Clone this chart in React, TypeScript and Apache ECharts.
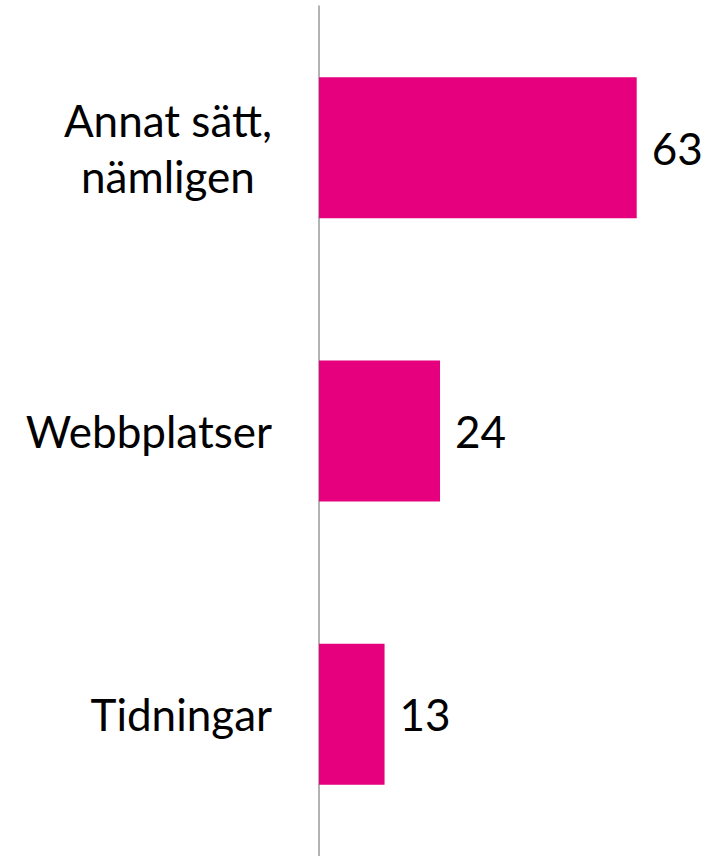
import React, { useEffect, useRef } from "react";
import * as echarts from "echarts";

const categories = ["Annat sätt,\nnämligen", "Webbplatser", "Tidningar"];
const values = [63, 24, 13];

const FONT = "Lato";
const FS = 44;

export default function App() {
  const ref = useRef<HTMLDivElement>(null);
  useEffect(() => {
    const chart = echarts.init(ref.current!, null, { renderer: "svg" });
    chart.setOption({
      animation: false,
      backgroundColor: "#ffffff",
      grid: { left: 319, top: 6, width: 353, height: 852 },
      xAxis: {
        type: "value",
        min: 0,
        max: 70,
        show: false,
        splitLine: { show: false },
      },
      yAxis: {
        type: "category",
        data: categories,
        inverse: true,
        axisTick: { show: false },
        axisLine: { show: true, lineStyle: { color: "#9a9a9a", width: 1.5 } },
        axisLabel: {
          margin: 47,
          color: "#000000",
          fontFamily: FONT,
          fontSize: FS,
          formatter: (v: string) =>
            v
              .split("\n")
              .map((line) => "{a|" + line + "}")
              .join("\n"),
          rich: {
            a: {
              align: "center",
              fontFamily: FONT,
              fontSize: FS,
              color: "#000000",
              lineHeight: 56,
            },
          },
        },
      },
      series: [
        {
          type: "bar",
          data: values,
          barWidth: 141,
          itemStyle: { color: "#E6007E" },
          label: {
            show: true,
            position: "right",
            distance: 15,
            color: "#000000",
            fontFamily: FONT,
            fontSize: FS,
          },
        },
      ],
    });
    return () => chart.dispose();
  }, []);
  return (
    <div
      ref={ref}
      style={{ position: "absolute", left: 0, top: 0, width: 707, height: 856 }}
    />
  );
}
